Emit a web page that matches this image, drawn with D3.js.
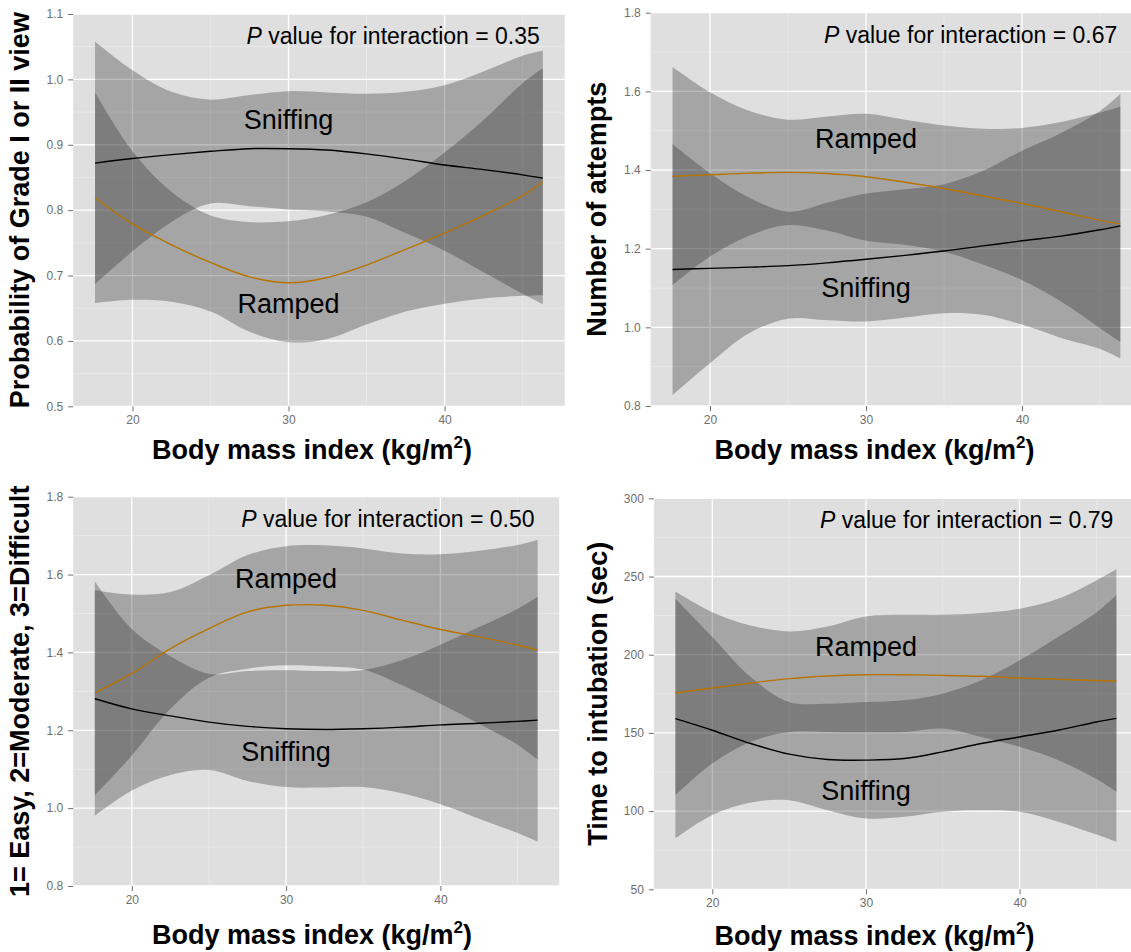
<!DOCTYPE html>
<html>
<head>
<meta charset="utf-8">
<script src="https://cdn.jsdelivr.net/npm/d3@7"></script>
<style>
  html, body { margin: 0; padding: 0; background: #ffffff; }
  svg { display: block; }
  text { font-family: "Liberation Sans", Arial, Helvetica, sans-serif; }
</style>
</head>
<body>
<svg id="chart" width="1131" height="952"></svg>
<script>
// ---------------- DATA ----------------
const bmi = [17.6, 20, 22.5, 25, 27.5, 30, 32.5, 35, 37.5, 40, 42.5, 45, 46.3];
const xTicks = [20, 30, 40];
const xMinorTicks = [25, 35, 45];

// Panel 1: Probability of Grade I or II view
const gradeSniffFit = [0.872, 0.879, 0.885, 0.890, 0.894, 0.894, 0.892, 0.886, 0.878, 0.869, 0.862, 0.854, 0.849];
const gradeSniffHi  = [1.058, 1.014, 0.981, 0.969, 0.976, 0.982, 0.980, 0.978, 0.981, 0.991, 1.012, 1.036, 1.044];
const gradeSniffLo  = [0.687, 0.737, 0.782, 0.810, 0.806, 0.801, 0.798, 0.790, 0.765, 0.738, 0.705, 0.672, 0.656];
const gradeRampFit  = [0.819, 0.779, 0.747, 0.720, 0.698, 0.689, 0.697, 0.716, 0.740, 0.765, 0.792, 0.822, 0.843];
const gradeRampHi   = [0.980, 0.890, 0.828, 0.792, 0.782, 0.783, 0.793, 0.812, 0.845, 0.888, 0.938, 0.994, 1.017];
const gradeRampLo   = [0.658, 0.663, 0.660, 0.645, 0.614, 0.598, 0.603, 0.625, 0.645, 0.657, 0.665, 0.669, 0.670];
const gradeTicks = [0.5, 0.6, 0.7, 0.8, 0.9, 1.0, 1.1];
const gradeMinor = [0.55, 0.65, 0.75, 0.85, 0.95, 1.05];

// Panel 2: Number of attempts
const attSniffFit = [1.147, 1.150, 1.153, 1.157, 1.164, 1.173, 1.183, 1.194, 1.207, 1.220, 1.232, 1.248, 1.258];
const attSniffHi  = [1.466, 1.392, 1.330, 1.294, 1.317, 1.340, 1.351, 1.364, 1.398, 1.449, 1.494, 1.550, 1.593];
const attSniffLo  = [0.828, 0.909, 0.985, 1.022, 1.018, 1.015, 1.025, 1.036, 1.032, 1.007, 0.973, 0.945, 0.921];
const attRampFit  = [1.384, 1.388, 1.392, 1.394, 1.391, 1.383, 1.369, 1.353, 1.334, 1.315, 1.294, 1.272, 1.263];
const attRampHi   = [1.662, 1.598, 1.551, 1.528, 1.536, 1.543, 1.528, 1.513, 1.505, 1.507, 1.522, 1.546, 1.561];
const attRampLo   = [1.107, 1.180, 1.233, 1.260, 1.246, 1.220, 1.210, 1.192, 1.160, 1.120, 1.066, 0.998, 0.963];
const attTicks = [0.8, 1.0, 1.2, 1.4, 1.6, 1.8];
const attMinor = [0.9, 1.1, 1.3, 1.5, 1.7];

// Panel 3: Difficulty (1= Easy, 2=Moderate, 3=Difficult)
const diffSniffFit = [1.281, 1.255, 1.237, 1.221, 1.210, 1.204, 1.202, 1.204, 1.208, 1.214, 1.218, 1.223, 1.226];
const diffSniffHi  = [1.583, 1.460, 1.390, 1.345, 1.352, 1.354, 1.352, 1.355, 1.380, 1.420, 1.465, 1.512, 1.543];
const diffSniffLo  = [0.980, 1.045, 1.085, 1.098, 1.070, 1.054, 1.053, 1.054, 1.038, 1.010, 0.973, 0.936, 0.914];
const diffRampFit  = [1.296, 1.346, 1.410, 1.461, 1.504, 1.521, 1.521, 1.508, 1.483, 1.459, 1.440, 1.419, 1.406];
const diffRampHi   = [1.560, 1.549, 1.555, 1.598, 1.650, 1.673, 1.675, 1.667, 1.654, 1.652, 1.661, 1.676, 1.689];
const diffRampLo   = [1.033, 1.135, 1.255, 1.335, 1.358, 1.367, 1.364, 1.356, 1.316, 1.268, 1.217, 1.163, 1.125];
const diffTicks = [0.8, 1.0, 1.2, 1.4, 1.6, 1.8];
const diffMinor = [0.9, 1.1, 1.3, 1.5, 1.7];

// Panel 4: Time to intubation (sec)
const timeSniffFit = [159.1, 151.7, 143.2, 136.4, 133.0, 132.6, 133.6, 137.9, 143.2, 147.4, 151.7, 157.0, 159.3];
const timeSniffHi  = [235.7, 211.3, 185.7, 169.8, 168.7, 169.8, 170.9, 175.1, 183.6, 196.4, 211.3, 227.0, 238.2];
const timeSniffLo  = [82.5, 97.5, 105.5, 107.0, 100.6, 95.3, 96.4, 99.6, 100.6, 99.6, 93.2, 85.0, 80.4];
const timeRampFit  = [175.5, 178.7, 181.9, 184.7, 186.4, 187.2, 187.2, 186.8, 186.2, 185.1, 184.3, 183.5, 183.2];
const timeRampHi   = [240.4, 227.2, 218.7, 214.9, 218.1, 224.5, 225.5, 225.5, 226.6, 229.4, 235.7, 247.5, 254.6];
const timeRampLo   = [110.2, 130.4, 144.3, 150.6, 150.6, 150.4, 150.6, 152.8, 147.4, 141.1, 132.6, 120.5, 112.4];
const timeTicks = [50, 100, 150, 200, 250, 300];
const timeMinor = [75, 125, 175, 225, 275];

const groupNames = ["Sniffing", "Ramped"];
const pValues = ["0.35", "0.67", "0.50", "0.79"];
const yTitles = ["Probability of Grade I or II view", "Number of attempts",
                 "1= Easy, 2=Moderate, 3=Difficult", "Time to intubation (sec)"];
// label anchor (x in BMI, y in data units, baseline)
const labelX = 30;
const gradeLabelY = [0.924, 0.643];
const attLabelY = [1.078, 1.455];
const diffLabelY = [1.121, 1.565];
const timeLabelY = [107.2, 199.2];

// ---------------- LAYOUT ----------------
const xDomain = [16.2, 47.7];
const FONT_AXIS_TITLE = 27;
const panels = [
  { left: 73.2, top: 14, width: 491.5, height: 392.3, yDomain: [0.5, 1.1],
    ticks: gradeTicks, minor: gradeMinor, fmt: d3.format(".1f"),
    sniff: [gradeSniffFit, gradeSniffLo, gradeSniffHi], ramp: [gradeRampFit, gradeRampLo, gradeRampHi],
    labelY: gradeLabelY, title: yTitles[0], p: pValues[0], xTitleCx: 312, xTitleBase: 459, yTitleX: 29 },
  { left: 650.7, top: 12.7, width: 491.5, height: 393.3, yDomain: [0.8, 1.8],
    ticks: attTicks, minor: attMinor, fmt: d3.format(".1f"),
    sniff: [attSniffFit, attSniffLo, attSniffHi], ramp: [attRampFit, attRampLo, attRampHi],
    labelY: attLabelY, title: yTitles[1], p: pValues[1], xTitleCx: 874.5, xTitleBase: 459, yTitleX: 606 },
  { left: 73.2, top: 496.7, width: 486, height: 389.3, yDomain: [0.8, 1.8],
    ticks: diffTicks, minor: diffMinor, fmt: d3.format(".1f"),
    sniff: [diffSniffFit, diffSniffLo, diffSniffHi], ramp: [diffRampFit, diffRampLo, diffRampHi],
    labelY: diffLabelY, title: yTitles[2], p: pValues[2], xTitleCx: 312, xTitleBase: 944, yTitleX: 29 },
  { left: 653.9, top: 498.3, width: 484, height: 391, yDomain: [50, 300],
    ticks: timeTicks, minor: timeMinor, fmt: d3.format("d"),
    sniff: [timeSniffFit, timeSniffLo, timeSniffHi], ramp: [timeRampFit, timeRampLo, timeRampHi],
    labelY: timeLabelY, title: yTitles[3], p: pValues[3], xTitleCx: 874.5, xTitleBase: 945, yTitleX: 607 }
];

const BG = "#dfdfdf";
const BAND_FILL = "#202020";
const BAND_OPACITY = 0.3;
const RAMP_COLOR = "#b87400";
const SNIFF_COLOR = "#000000";
const TICK_COLOR = "#6e6e6e";

const svg = d3.select("#chart");

panels.forEach((p, i) => {
  const x = d3.scaleLinear().domain(xDomain).range([p.left, p.left + p.width]);
  const y = d3.scaleLinear().domain(p.yDomain).range([p.top + p.height, p.top]);
  const g = svg.append("g");

  // background
  g.append("rect").attr("x", p.left).attr("y", p.top)
    .attr("width", p.width).attr("height", p.height).attr("fill", BG);

  // minor grid
  g.selectAll(".vminor").data(xMinorTicks).join("line")
    .attr("x1", d => x(d)).attr("x2", d => x(d))
    .attr("y1", p.top).attr("y2", p.top + p.height)
    .attr("stroke", "#ececec").attr("stroke-width", 0.7);
  g.selectAll(".hminor").data(p.minor).join("line")
    .attr("x1", p.left).attr("x2", p.left + p.width)
    .attr("y1", d => y(d)).attr("y2", d => y(d))
    .attr("stroke", "#ececec").attr("stroke-width", 0.7);
  // major grid
  g.selectAll(".vmajor").data(xTicks).join("line")
    .attr("x1", d => x(d)).attr("x2", d => x(d))
    .attr("y1", p.top).attr("y2", p.top + p.height)
    .attr("stroke", "#ffffff").attr("stroke-width", 1.3);
  g.selectAll(".hmajor").data(p.ticks).join("line")
    .attr("x1", p.left).attr("x2", p.left + p.width)
    .attr("y1", d => y(d)).attr("y2", d => y(d))
    .attr("stroke", "#ffffff").attr("stroke-width", 1.3);

  const curve = d3.curveCatmullRom.alpha(0.5);
  const area = d3.area().curve(curve)
    .x(d => x(d.x)).y0(d => y(d.lo)).y1(d => y(d.hi));
  const line = d3.line().curve(curve).x(d => x(d.x)).y(d => y(d.v));

  const groups = [
    { name: groupNames[0], arr: p.sniff, color: SNIFF_COLOR, ly: p.labelY[0] },
    { name: groupNames[1], arr: p.ramp, color: RAMP_COLOR, ly: p.labelY[1] }
  ];

  groups.forEach(gr => {
    const rows = bmi.map((b, k) => ({ x: b, v: gr.arr[0][k], lo: gr.arr[1][k], hi: gr.arr[2][k] }));
    g.append("path").datum(rows).attr("d", area)
      .attr("fill", BAND_FILL).attr("fill-opacity", BAND_OPACITY);
  });
  groups.forEach(gr => {
    const rows = bmi.map((b, k) => ({ x: b, v: gr.arr[0][k] }));
    g.append("path").datum(rows).attr("d", line)
      .attr("fill", "none").attr("stroke", gr.color).attr("stroke-width", 1.4);
  });
  groups.forEach(gr => {
    g.append("text").attr("x", x(labelX)).attr("y", y(gr.ly))
      .attr("text-anchor", "middle").attr("font-size", 27).attr("fill", "#000")
      .text(gr.name);
  });

  // P value annotation
  const ann = g.append("text")
    .attr("x", x(bmi[bmi.length - 1]) - 3).attr("y", p.top + 30)
    .attr("text-anchor", "end").attr("font-size", 23).attr("fill", "#000");
  ann.append("tspan").attr("font-style", "italic").text("P");
  ann.append("tspan").text(" value for interaction = " + p.p);

  // axes
  const xAxis = d3.axisBottom(x).tickValues(xTicks).tickSize(5).tickPadding(4).tickFormat(d3.format("d"));
  const ax = g.append("g").attr("transform", `translate(0,${p.top + p.height})`).call(xAxis);
  const yAxis = d3.axisLeft(y).tickValues(p.ticks).tickSize(5).tickPadding(5).tickFormat(p.fmt);
  const ay = g.append("g").attr("transform", `translate(${p.left},0)`).call(yAxis);
  [ax, ay].forEach(a => {
    a.select(".domain").remove();
    a.selectAll("line").attr("stroke", TICK_COLOR);
    a.selectAll("text").attr("fill", TICK_COLOR).attr("font-size", 12)
      .attr("font-family", '"Liberation Sans", Arial, Helvetica, sans-serif');
  });

  // x title
  const xt = g.append("text").attr("x", p.xTitleCx).attr("y", p.xTitleBase)
    .attr("text-anchor", "middle").attr("font-size", FONT_AXIS_TITLE).attr("font-weight", "bold")
    .attr("fill", "#000");
  xt.append("tspan").text("Body mass index (kg/m");
  xt.append("tspan").attr("font-size", 17).attr("dy", -11).text("2");
  xt.append("tspan").attr("dy", 11).text(")");

  // y title
  g.append("text")
    .attr("transform", `translate(${p.yTitleX},${p.top + p.height / 2}) rotate(-90)`)
    .attr("text-anchor", "middle").attr("font-size", FONT_AXIS_TITLE).attr("font-weight", "bold")
    .attr("fill", "#000").text(p.title);
});
</script>
</body>
</html>
